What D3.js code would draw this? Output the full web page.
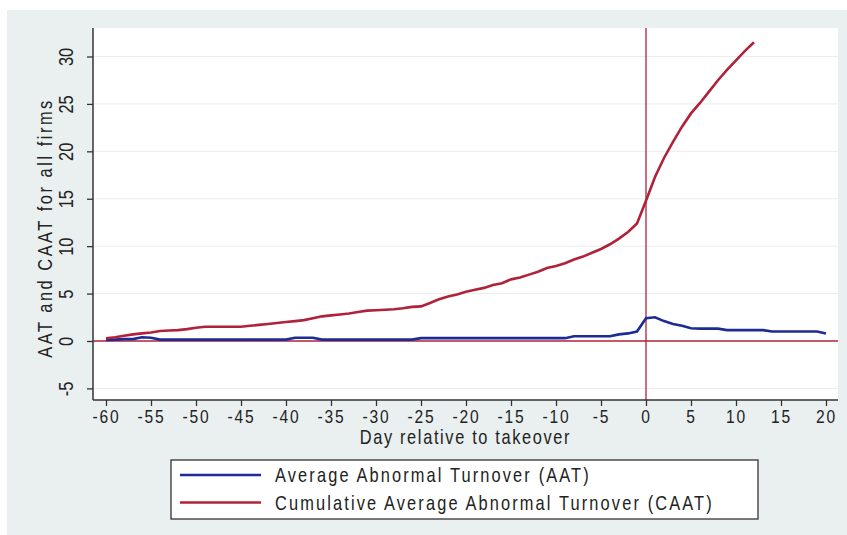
<!DOCTYPE html>
<html lang="en">
<head>
<meta charset="UTF-8">
<title>AAT and CAAT</title>
<script src="https://cdn.jsdelivr.net/npm/d3@7"></script>
<style>
  body { margin: 0; background: #fff; }
  text { font-family: "Liberation Sans", Arial, sans-serif; fill: #222; }
</style>
</head>
<body>
<div id="chart"></div>
<script>
// days relative to takeover
var aatDays = d3.range(-60, 21);
var aatValues = [
  0.10, 0.15, 0.20, 0.20, 0.40, 0.35, 0.15, 0.15, 0.15, 0.15,   // -60..-51
  0.15, 0.15, 0.15, 0.15, 0.15, 0.15, 0.15, 0.15, 0.15, 0.15,   // -50..-41
  0.15, 0.35, 0.35, 0.35, 0.15, 0.15, 0.15, 0.15, 0.15, 0.15,   // -40..-31
  0.15, 0.15, 0.15, 0.15, 0.15, 0.30, 0.30, 0.30, 0.30, 0.30,   // -30..-21
  0.30, 0.30, 0.30, 0.30, 0.30, 0.30, 0.30, 0.30, 0.30, 0.30,   // -20..-11
  0.30, 0.30, 0.50, 0.50, 0.50, 0.50, 0.50, 0.70, 0.80, 1.00,   // -10..-1
  2.40, 2.50, 2.10, 1.80, 1.60, 1.35, 1.30, 1.30, 1.30, 1.15,   // 0..9
  1.15, 1.15, 1.15, 1.15, 1.00, 1.00, 1.00, 1.00, 1.00, 1.00,   // 10..19
  0.80                                                          // 20
];
var caatDays = d3.range(-60, 13);
var caatValues = [
  0.28, 0.40, 0.55, 0.70, 0.80, 0.90, 1.05, 1.10, 1.15, 1.25,   // -60..-51
  1.40, 1.50, 1.50, 1.50, 1.50, 1.50, 1.60, 1.70, 1.80, 1.90,   // -50..-41
  2.00, 2.10, 2.20, 2.40, 2.60, 2.70, 2.80, 2.90, 3.05, 3.20,   // -40..-31
  3.25, 3.30, 3.35, 3.45, 3.60, 3.65, 4.00, 4.40, 4.70, 4.90,   // -30..-21
  5.20, 5.40, 5.60, 5.90, 6.10, 6.50, 6.70, 7.00, 7.30, 7.70,   // -20..-11
  7.90, 8.20, 8.60, 8.90, 9.30, 9.70, 10.2, 10.8, 11.5, 12.4,   // -10..-1
  14.8, 17.3, 19.3, 21.0, 22.6, 24.0, 25.1, 26.3, 27.5, 28.6,   // 0..9
  29.6, 30.6, 31.5                                              // 10..12
];
var xTicks = d3.range(-60, 21, 5);
var yTicks = [-5, 0, 5, 10, 15, 20, 25, 30];
var legendLabels = ["Average Abnormal Turnover (AAT)", "Cumulative Average Abnormal Turnover (CAAT)"];

var W = 847, H = 535;
var plot = { left: 93, right: 838, top: 28, bottom: 400 };
var blue = "#1c2c94", red = "#b0223a";
var squeeze = "scale(0.82,1)";   // narrow look of the original font

var svg = d3.select("#chart").append("svg")
  .attr("width", W).attr("height", H);

// grey panel
svg.append("rect").attr("x", 7).attr("y", 10).attr("width", W - 7).attr("height", H - 10)
  .attr("fill", "#eaf0f0");
// plot region
svg.append("rect").attr("x", plot.left).attr("y", plot.top)
  .attr("width", plot.right - plot.left).attr("height", plot.bottom - plot.top)
  .attr("fill", "#fff");

var x = d3.scaleLinear().domain([-60, 20]).range([106, 826]);
var y = d3.scaleLinear().domain([0, 30]).range([341, 56.5]);

// gridlines
svg.append("g").selectAll("line").data(yTicks.filter(function (d) { return d !== 0; }))
  .enter().append("line")
  .attr("x1", plot.left).attr("x2", plot.right)
  .attr("y1", function (d) { return y(d); }).attr("y2", function (d) { return y(d); })
  .attr("stroke", "#ececec").attr("stroke-width", 1);

// reference lines at 0
svg.append("line").attr("x1", plot.left).attr("x2", plot.right)
  .attr("y1", y(0)).attr("y2", y(0)).attr("stroke", red).attr("stroke-width", 1.3);
svg.append("line").attr("x1", x(0)).attr("x2", x(0))
  .attr("y1", plot.top).attr("y2", plot.bottom).attr("stroke", red).attr("stroke-width", 1.3);

// series
var line = d3.line().x(function (d) { return x(d[0]); }).y(function (d) { return y(d[1]); });
svg.append("path").datum(d3.zip(aatDays, aatValues)).attr("d", line)
  .attr("fill", "none").attr("stroke", blue).attr("stroke-width", 2.6);
svg.append("path").datum(d3.zip(caatDays, caatValues)).attr("d", line)
  .attr("fill", "none").attr("stroke", red).attr("stroke-width", 2.6);

// x axis
var xAxis = svg.append("g").attr("transform", "translate(0," + plot.bottom + ")")
  .call(d3.axisBottom(x).tickValues(xTicks).tickSize(6).tickSizeOuter(0).tickPadding(4)
    .tickFormat(function (d) { return String(d); }));
xAxis.select(".domain").attr("d", "M" + plot.left + ",0H" + plot.right).attr("stroke", "#333").attr("stroke-width", 1.5);
xAxis.selectAll(".tick line").attr("stroke", "#333").attr("stroke-width", 1.3);
xAxis.selectAll(".tick text").attr("font-size", 19).attr("font-family", null)
  .style("letter-spacing", "2.2px").attr("fill", "#222").attr("transform", squeeze);

// y axis
var yAxis = svg.append("g").attr("transform", "translate(" + plot.left + ",0)")
  .call(d3.axisLeft(y).tickValues(yTicks).tickSize(6).tickSizeOuter(0)
    .tickFormat(function (d) { return String(d); }));
yAxis.select(".domain").attr("d", "M0," + plot.top + "V" + plot.bottom).attr("stroke", "#333").attr("stroke-width", 1.5);
yAxis.selectAll(".tick line").attr("stroke", "#333").attr("stroke-width", 1.3);
yAxis.selectAll(".tick text").attr("font-size", 20).attr("font-family", null)
  .attr("fill", "#222").attr("x", null).attr("dy", null)
  .attr("text-anchor", "middle")
  .attr("transform", "translate(-20,0) rotate(-90) " + squeeze);

// axis titles
svg.append("text").attr("transform", "translate(" + (plot.left + plot.right) / 2 + ",444) " + squeeze)
  .attr("text-anchor", "middle").attr("font-size", 20).style("letter-spacing", "2px")
  .text("Day relative to takeover");
svg.append("text").attr("transform", "translate(52,228) rotate(-90) " + squeeze)
  .attr("text-anchor", "middle").attr("font-size", 20).style("letter-spacing", "3.1px")
  .text("AAT and CAAT for all firms");

// legend
var leg = svg.append("g");
leg.append("rect").attr("x", 171).attr("y", 460).attr("width", 587).attr("height", 59)
  .attr("fill", "#fff").attr("stroke", "#333").attr("stroke-width", 1.3);
var items = leg.selectAll("g.item").data(legendLabels).enter().append("g")
  .attr("transform", function (d, i) { return "translate(0," + (475 + i * 27.5) + ")"; });
items.append("line").attr("x1", 180).attr("x2", 261).attr("y1", 0).attr("y2", 0)
  .attr("stroke", function (d, i) { return i === 0 ? blue : red; }).attr("stroke-width", 2.6);
items.append("text").attr("transform", "translate(275,7) " + squeeze).attr("font-size", 20)
  .style("letter-spacing", "2.6px").text(function (d) { return d; });
</script>
</body>
</html>
